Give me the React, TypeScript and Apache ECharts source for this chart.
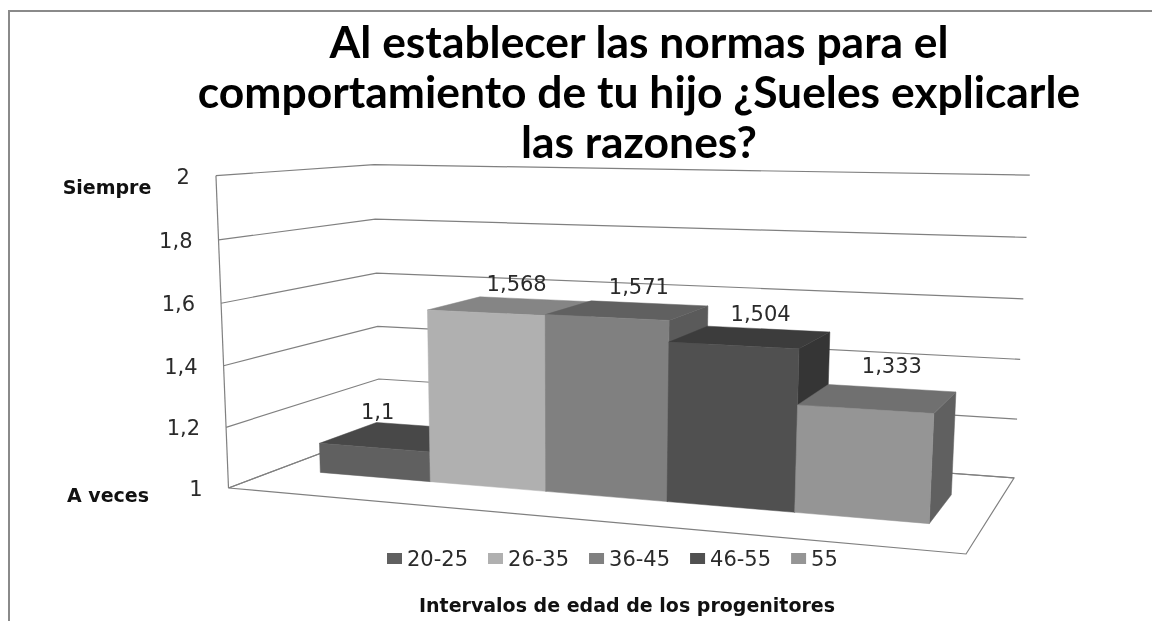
import React, { useEffect, useRef } from "react";
import * as echarts from "echarts";

const titleText = "Al establecer las normas para el\ncomportamiento de tu hijo ¿Sueles explicarle\nlas razones?";
const categories = ["20-25", "26-35", "36-45", "46-55", "55"];
const values = [1.1, 1.568, 1.571, 1.504, 1.333];
const valueLabels = ["1,1", "1,568", "1,571", "1,504", "1,333"];
const yTicks = [1, 1.2, 1.4, 1.6, 1.8, 2];
const yTickLabels = ["1", "1,2", "1,4", "1,6", "1,8", "2"];
const xTitle = "Intervalos de edad de los progenitores";

const frontColors = ["#606060", "#b0b0b0", "#808080", "#505050", "#959595"];
const topColors = ["#484848", "#858585", "#606060", "#3c3c3c", "#707070"];
const sideColors = ["#484848", "#858585", "#5a5a5a", "#353535", "#606060"];
const labelNudges = [[-25, -24], [5, -22], [10, -23], [9, -23], [13, -32]];

const GRID = { left: 100, top: 100, width: 800, height: 400 };
const U0 = 0.067, U1 = 0.934, V0 = 0.3, V1 = 0.69;
const FONT = "'DejaVu Sans', sans-serif";
const LABEL_FONT_SIZE = 21;
const LINE = "#808080";

// perspective camera: (u across, v depth, t height) -> page pixels
function project(u: number, v: number, t: number): [number, number] {
  const w = 1 - 0.14238 * u + 0.17403 * v - 0.0354 * t;
  return [
    (600 * u + 217.6 * v + 228.5 - 20.2 * t) / w,
    (-12.9 * u + 18 * v + 488 - 318.6 * t) / w,
  ];
}
const heightOf = (px: number) => (GRID.top + GRID.height - px) / GRID.height;

function renderWall(params: any, api: any) {
  const t = heightOf(api.coord([0, api.value(1)])[1]);
  const lineStyle = { stroke: LINE, lineWidth: 1.2, fill: "none" };
  const tickPt = project(0, 0, t);
  const children: any[] = [
    {
      type: "polyline",
      shape: { points: [project(0, 0, t), project(0, 1, t), project(1, 1, t)] },
      style: lineStyle,
    },
    {
      type: "text",
      style: {
        text: yTickLabels[params.dataIndex],
        x: tickPt[0] - 26,
        y: tickPt[1] + 1,
        align: "right",
        verticalAlign: "middle",
        fontFamily: FONT,
        fontSize: LABEL_FONT_SIZE,
        fill: "#2a2a2a",
      },
    },
  ];
  if (params.dataIndex === 0) {
    children.unshift(
      {
        type: "polygon",
        shape: { points: [project(0, 0, 0), project(1, 0, 0), project(1, 1, 0), project(0, 1, 0)] },
        style: { stroke: LINE, lineWidth: 1.2, fill: "#ffffff" },
      },
      { type: "line", shape: { x1: project(0, 0, 0)[0], y1: project(0, 0, 0)[1], x2: project(0, 0, 1)[0], y2: project(0, 0, 1)[1] }, style: { stroke: LINE, lineWidth: 1.2 } }
    );
  }
  return { type: "group", children };
}

function renderBar(seriesIdx: number) {
  return (_params: any, api: any) => {
    const cat = api.value(0);
    const pt = api.coord([cat, api.value(1)]);
    const band = api.size([1, 0])[0];
    const t = heightOf(pt[1]);
    const f0 = (pt[0] - band / 2 - GRID.left) / GRID.width;
    const f1 = (pt[0] + band / 2 - GRID.left) / GRID.width;
    const u0 = U0 + f0 * (U1 - U0);
    const u1 = U0 + f1 * (U1 - U0);
    const face = (pts: [number, number][], fill: string) => ({
      type: "polygon",
      shape: { points: pts },
      style: { fill, stroke: fill, lineWidth: 0.5 },
    });
    const c = project((u0 + u1) / 2, 0.5, t);
    const nudge = labelNudges[seriesIdx];
    return {
      type: "group",
      children: [
        face([project(u1, V0, 0), project(u1, V1, 0), project(u1, V1, t), project(u1, V0, t)], sideColors[seriesIdx]),
        face([project(u0, V0, t), project(u1, V0, t), project(u1, V1, t), project(u0, V1, t)], topColors[seriesIdx]),
        face([project(u0, V0, 0), project(u1, V0, 0), project(u1, V0, t), project(u0, V0, t)], frontColors[seriesIdx]),
        {
          type: "text",
          style: {
            text: valueLabels[seriesIdx],
            x: c[0] + nudge[0],
            y: c[1] + nudge[1],
            align: "center",
            verticalAlign: "middle",
            fontFamily: FONT,
            fontSize: LABEL_FONT_SIZE,
            fill: "#2a2a2a",
          },
        },
      ],
    };
  };
}

export default function App() {
  const ref = useRef<HTMLDivElement>(null);
  useEffect(() => {
    const chart = echarts.init(ref.current!, null, { renderer: "svg" });
    chart.setOption({
      animation: false,
      backgroundColor: "#ffffff",
      title: {
        text: titleText,
        left: 634,
        top: 10,
        textAlign: "center",
        textStyle: { fontFamily: "Lato, sans-serif", fontWeight: "bold", fontSize: 44.4, lineHeight: 50, color: "#000000" },
      },
      grid: GRID,
      xAxis: { type: "category", data: categories, show: false },
      yAxis: { type: "value", min: 1, max: 2, interval: 0.2, show: false },
      legend: {
        left: 382,
        top: 543,
        icon: "rect",
        itemWidth: 15,
        itemHeight: 11,
        itemGap: 20,
        data: categories,
        selectedMode: false,
        textStyle: { fontFamily: FONT, fontSize: LABEL_FONT_SIZE, color: "#2a2a2a" },
      },
      graphic: [
        { type: "polyline", shape: { points: [[1152, 11], [9, 11], [9, 621]] }, style: { stroke: "#8a8a8a", lineWidth: 2, fill: "none" } },
        { type: "text", x: 107, y: 187, style: { text: "Siempre", align: "center", verticalAlign: "middle", fontFamily: FONT, fontWeight: "bold", fontSize: 19, fill: "#111111" } },
        { type: "text", x: 108, y: 495, style: { text: "A veces", align: "center", verticalAlign: "middle", fontFamily: FONT, fontWeight: "bold", fontSize: 19, fill: "#111111" } },
        { type: "text", x: 627, y: 605, style: { text: xTitle, align: "center", verticalAlign: "middle", fontFamily: FONT, fontWeight: "bold", fontSize: 19, fill: "#111111" } },
      ],
      series: [
        {
          type: "custom",
          name: "wall",
          coordinateSystem: "cartesian2d",
          renderItem: renderWall,
          clip: false,
          z: 1,
          data: yTicks.map((v) => [0, v]),
        },
        ...categories.map((name, i) => ({
          type: "custom",
          name,
          coordinateSystem: "cartesian2d",
          renderItem: renderBar(i),
          clip: false,
          z: 2 + i,
          itemStyle: { color: frontColors[i] },
          data: [[i, values[i]]],
        })),
      ],
    });
    return () => chart.dispose();
  }, []);
  return <div ref={ref} style={{ position: "fixed", left: 0, top: 0, width: 1152, height: 621, filter: "blur(0.4px)" }} />;
}
